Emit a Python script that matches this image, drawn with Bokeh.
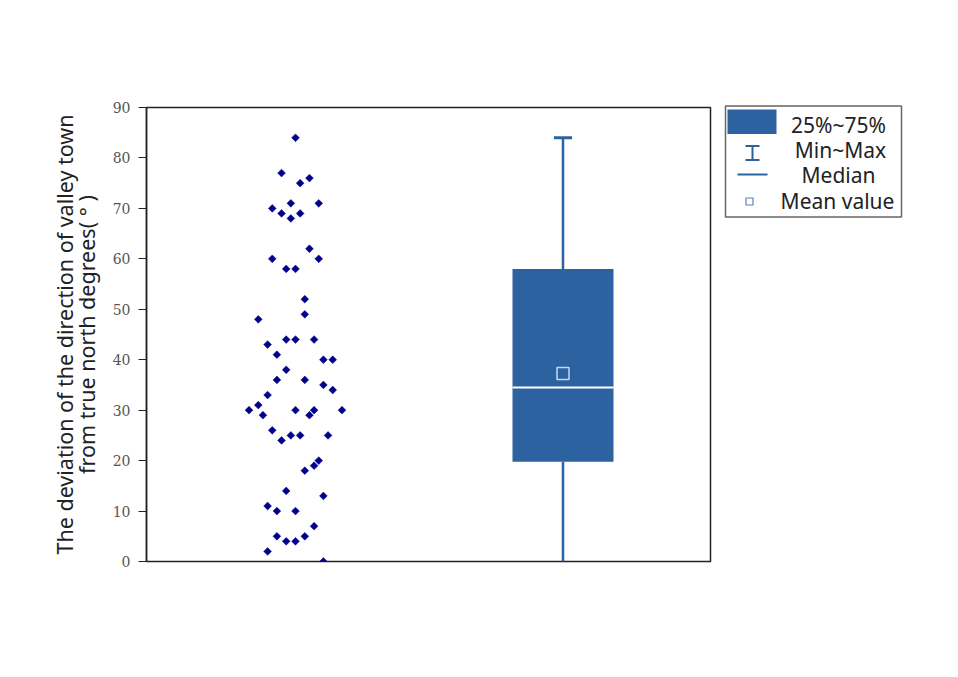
import numpy as np
from bokeh.plotting import figure
from bokeh.layouts import row, column
from bokeh.models import Range1d, FixedTicker
from bokeh.core.properties import value
from bokeh.embed import file_html
from bokeh.resources import INLINE

# ---- data ----
deviation = [84, 77, 76, 75, 71, 71, 70, 69, 69, 68, 62, 60, 60, 58, 58, 52, 49, 48,
             44, 44, 44, 43, 41, 40, 40, 38, 36, 36, 35, 34, 33, 31, 30, 30, 30, 30,
             29, 29, 26, 24, 25, 25, 25, 20, 19, 18, 14, 13, 11, 10, 10, 7, 5, 5,
             4, 4, 2, 0]
jitter_steps = [0, -3, 3, 1, -1, 5, -5, -3, 1, -1, 3, -5, 5, -2, 0, 2, 2, -8,
                -2, 0, 4, -6, -4, 6, 8, -2, -4, 2, 6, 8, -6, -8, -10, 0, 4, 10,
                -7, 3, -5, -3, -1, 1, 7, 5, 4, 2, -2, 6, -6, -4, 0, 4, -4, 2,
                -2, 0, -6, 6]
y_ticks = [0, 10, 20, 30, 40, 50, 60, 70, 80, 90]
legend_labels = ["25%~75%", "Min~Max", "Median", "Mean value"]

BOX_COLOR = "#2C62A0"
SCATTER_X = 1.0
BOX_X = 2.0
STEP = 0.01738

vals = np.array(deviation, dtype=float)
q1, q3 = np.percentile(vals, [25, 75], method="weibull")
med = float(np.median(vals))
mean = float(vals.mean())
vmin, vmax = float(vals.min()), float(vals.max())

p = figure(width=715, height=601, output_backend="svg", toolbar_location=None,
           x_range=Range1d(0.443, 2.5514), y_range=Range1d(0, 90),
           min_border_left=146, min_border_right=5, min_border_top=107,
           min_border_bottom=40)
p.xaxis.visible = False
p.xgrid.visible = False
p.ygrid.visible = False
p.outline_line_color = "#222222"
p.outline_line_width = 1.5
p.background_fill_color = "white"
p.border_fill_color = "white"

ax = p.yaxis[0]
ax.ticker = FixedTicker(ticks=y_ticks)
ax.minor_tick_line_color = None
ax.major_tick_out = 8
ax.major_tick_in = 0
ax.major_tick_line_color = "#222222"
ax.axis_line_color = "#222222"
ax.axis_line_width = 1.5
ax.major_label_text_font = "DejaVu Serif"
ax.major_label_text_font_size = "14px"
ax.major_label_text_color = "#555555"
ax.major_label_standoff = 8
ax.axis_label = "The deviation of the direction of valley town\nfrom true north degrees( \u00b0 )"
ax.axis_label_text_font = "Noto Sans"
ax.axis_label_text_font_size = "21.5px"
ax.axis_label_text_font_style = "normal"
ax.axis_label_text_color = "#222222"
ax.axis_label_text_line_height = 0.75
ax.axis_label_standoff = 9

# scatter of individual values
xs = [SCATTER_X + s * STEP for s in jitter_steps]
p.scatter(xs, deviation, marker="square", angle=np.pi / 4, size=5.5,
          fill_color="#00008B", line_color="#00008B", line_width=0.5)

# box plot
bw = 0.3776
cap = 0.034
p.segment([BOX_X, BOX_X], [vmin, q3], [BOX_X, BOX_X], [q1, vmax],
          line_color=BOX_COLOR, line_width=2.5)
p.segment([BOX_X - cap], [vmax], [BOX_X + cap], [vmax], line_color=BOX_COLOR, line_width=3)
p.quad(left=[BOX_X - bw / 2], right=[BOX_X + bw / 2], bottom=[q1], top=[q3],
       fill_color=BOX_COLOR, line_color=None)
p.segment([BOX_X - bw / 2], [med], [BOX_X + bw / 2], [med], line_color="white", line_width=2)
p.scatter([BOX_X], [mean], marker="square", size=12, fill_color=None,
          line_color="#c5d7f0", line_width=1.5)

# ---- legend panel (page-pixel coordinates) ----
lg = figure(width=200, height=240, output_backend="svg", toolbar_location=None,
            x_range=Range1d(715, 915), y_range=Range1d(240, 0),
            min_border=0, min_border_left=0, min_border_right=0,
            min_border_top=0, min_border_bottom=0)
lg.axis.visible = False
lg.grid.visible = False
lg.outline_line_color = None
lg.quad(left=[725], right=[901], top=[105.5], bottom=[216.5], fill_color=None,
        line_color="#666666", line_width=1.5)
lg.quad(left=[727], right=[776], top=[109], bottom=[133.5], fill_color=BOX_COLOR, line_color=None)
lg.segment([752, 745, 745], [145.5, 145.5, 159.5], [752, 759, 759], [159.5, 145.5, 159.5],
           line_color=BOX_COLOR, line_width=2)
lg.segment([737], [174], [767], [174], line_color=BOX_COLOR, line_width=2)
lg.scatter([749], [201], marker="square", size=7, fill_color="white",
           line_color="#5b82b8", line_width=1.2)
lg.text([838, 840, 838, 837], [124, 149, 174, 200], text=legend_labels,
        text_align="center", text_baseline="middle",
        text_font=value("Noto Sans"), text_font_size="21px", text_color="#222222")

layout = row(p, column(lg, spacing=0), spacing=0)
open("out.html", "w").write(file_html(layout, INLINE))
